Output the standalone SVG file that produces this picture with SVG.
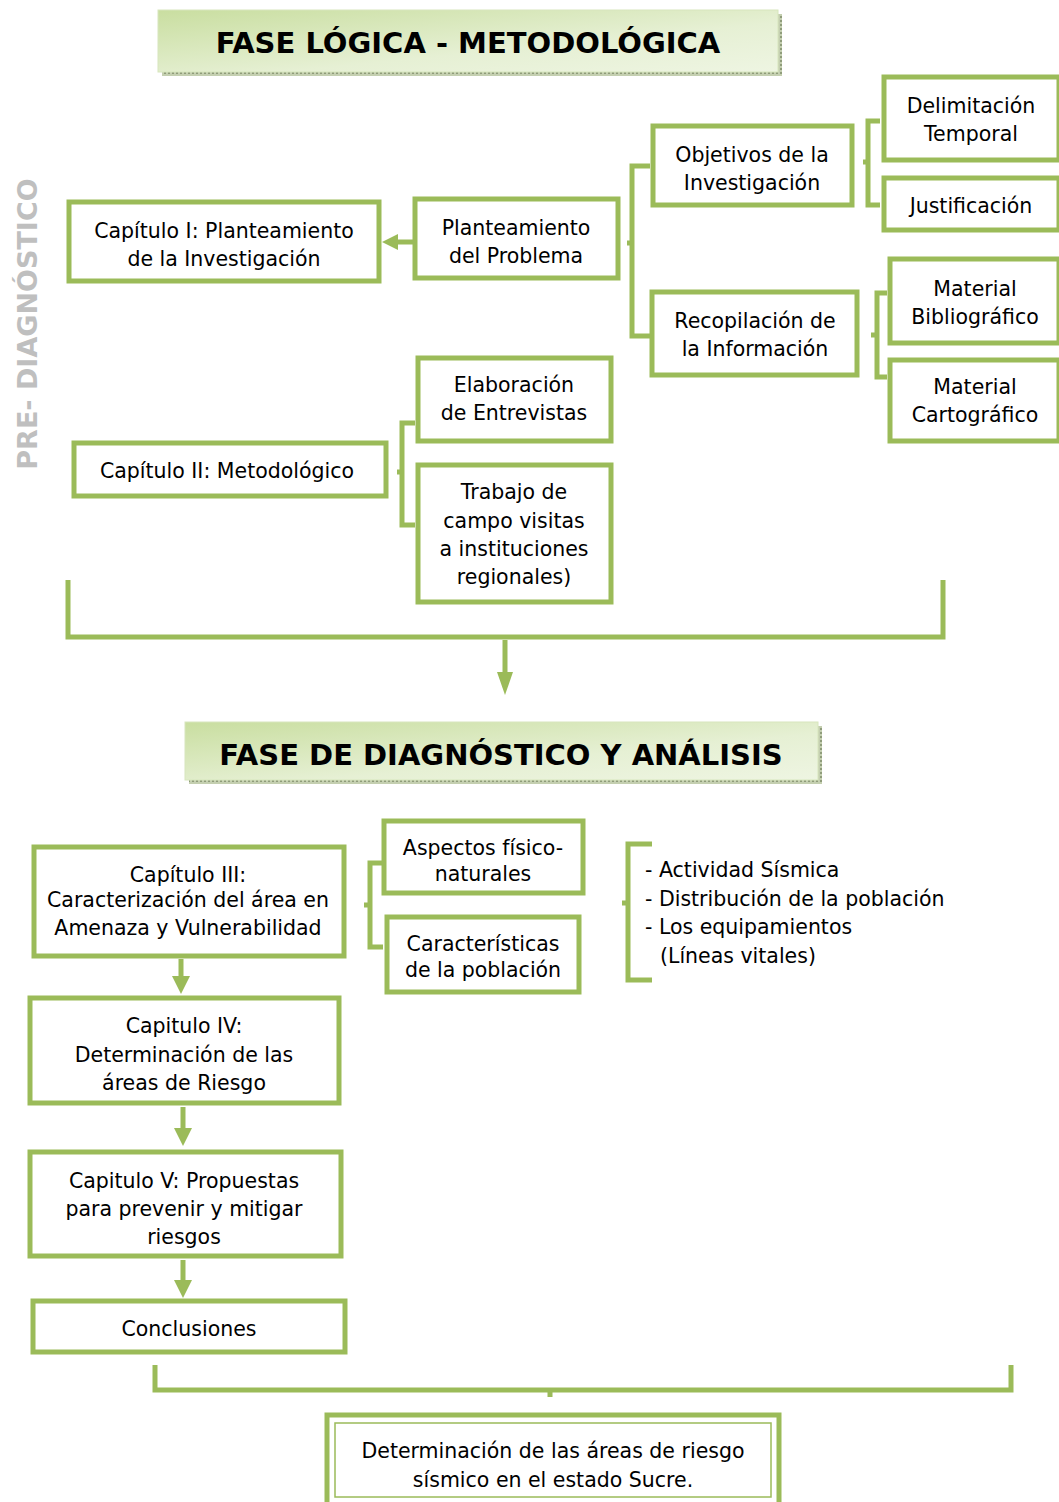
<svg xmlns="http://www.w3.org/2000/svg" width="1059" height="1502" viewBox="0 0 1059 1502">
<defs>
<linearGradient id="tg" x1="0" y1="0" x2="1" y2="1">
<stop offset="0" stop-color="#c9dea0"/>
<stop offset="0.6" stop-color="#e6f0d4"/>
<stop offset="1" stop-color="#eef5e2"/>
</linearGradient>
<pattern id="dots" width="4" height="4" patternUnits="userSpaceOnUse">
<rect width="4" height="4" fill="#c4cfb0"/>
<rect width="2" height="2" fill="#8f9c7a"/>
</pattern>
</defs>
<style>
.box{fill:#fff;stroke:#9BBB59;stroke-width:5}
.t{font-family:"DejaVu Sans","Noto Sans",sans-serif;font-size:20.5px;fill:#000;text-anchor:middle}
.tl{font-family:"DejaVu Sans","Noto Sans",sans-serif;font-size:20.5px;fill:#000}
.title{font-family:"DejaVu Sans","Noto Sans",sans-serif;font-weight:bold;font-size:29px;fill:#000;text-anchor:middle}
.c{fill:none;stroke:#9BBB59;stroke-width:5}
.head{fill:#9BBB59;stroke:none}
</style>
<rect width="1059" height="1502" fill="#fff"/>

<g id="title1">
<rect x="162" y="14" width="620" height="62" fill="url(#dots)"/>
<rect x="158" y="10" width="620" height="62" fill="url(#tg)" stroke="#d7e6bd" stroke-width="1"/>
<text class="title" x="468" y="53">FASE LÓGICA - METODOLÓGICA</text>
</g>

<g id="side-label">
<text transform="translate(37,324) rotate(-90)" font-family="DejaVu Sans,sans-serif" font-weight="bold" font-size="27" fill="#BFBFBF" text-anchor="middle">PRE- DIAGNÓSTICO</text>
</g>

<g id="cap1"><rect class="box" x="69" y="202" width="310" height="79"/>
<text class="t" x="224" y="238">Capítulo I: Planteamiento</text><text class="t" x="224" y="266">de la Investigación</text></g>
<g id="planteamiento"><rect class="box" x="415" y="199" width="203" height="79"/>
<text class="t" x="516" y="235">Planteamiento</text><text class="t" x="516" y="263">del Problema</text></g>
<g id="objetivos"><rect class="box" x="653" y="126" width="199" height="79"/>
<text class="t" x="752" y="162">Objetivos de la</text><text class="t" x="752" y="190">Investigación</text></g>
<g id="delimitacion"><rect class="box" x="884" y="77" width="175" height="83"/>
<text class="t" x="971" y="113">Delimitación</text><text class="t" x="971" y="141">Temporal</text></g>
<g id="justificacion"><rect class="box" x="884" y="178" width="175" height="52"/>
<text class="t" x="971" y="213">Justificación</text></g>
<g id="recopilacion"><rect class="box" x="652" y="292" width="205" height="83"/>
<text class="t" x="755" y="328">Recopilación de</text><text class="t" x="755" y="356">la Información</text></g>
<g id="bibliografico"><rect class="box" x="890" y="259" width="169" height="84"/>
<text class="t" x="975" y="296">Material</text><text class="t" x="975" y="324">Bibliográfico</text></g>
<g id="cartografico"><rect class="box" x="890" y="360" width="169" height="81"/>
<text class="t" x="975" y="394">Material</text><text class="t" x="975" y="422">Cartográfico</text></g>
<g id="cap2"><rect class="box" x="74" y="443" width="312" height="53"/>
<text class="t" x="227" y="478">Capítulo II: Metodológico</text></g>
<g id="entrevistas"><rect class="box" x="418" y="358" width="193" height="83"/>
<text class="t" x="514" y="392">Elaboración</text><text class="t" x="514" y="420">de Entrevistas</text></g>
<g id="trabajo"><rect class="box" x="418" y="465" width="193" height="137"/>
<text class="t" x="514" y="499">Trabajo de</text><text class="t" x="514" y="528">campo visitas</text><text class="t" x="514" y="556">a instituciones</text><text class="t" x="514" y="584">regionales)</text></g>

<g id="title2">
<rect x="189" y="726" width="633" height="58" fill="url(#dots)"/>
<rect x="185" y="722" width="633" height="58" fill="url(#tg)" stroke="#d7e6bd" stroke-width="1"/>
<text class="title" x="501" y="765">FASE DE DIAGNÓSTICO Y ANÁLISIS</text>
</g>

<g id="cap3"><rect class="box" x="34" y="847" width="310" height="109"/>
<text class="t" x="188" y="882">Capítulo III:</text><text class="t" x="188" y="907">Caracterización del área en</text><text class="t" x="188" y="935">Amenaza y Vulnerabilidad</text></g>
<g id="aspectos"><rect class="box" x="384" y="821" width="199" height="72"/>
<text class="t" x="483" y="855">Aspectos físico-</text><text class="t" x="483" y="881">naturales</text></g>
<g id="caracteristicas"><rect class="box" x="387" y="917" width="192" height="75"/>
<text class="t" x="483" y="951">Características</text><text class="t" x="483" y="977">de la población</text></g>
<g id="lista">
<text class="tl" x="645" y="877">- Actividad Sísmica</text>
<text class="tl" x="645" y="906">- Distribución de la población</text>
<text class="tl" x="645" y="934">- Los equipamientos</text>
<text class="tl" x="660" y="963">(Líneas vitales)</text>
</g>
<g id="cap4"><rect class="box" x="30" y="998" width="309" height="105"/>
<text class="t" x="184" y="1033">Capitulo IV:</text><text class="t" x="184" y="1062">Determinación de las</text><text class="t" x="184" y="1090">áreas de Riesgo</text></g>
<g id="cap5"><rect class="box" x="30" y="1152" width="311" height="104"/>
<text class="t" x="184" y="1188">Capitulo V: Propuestas</text><text class="t" x="184" y="1216">para prevenir y mitigar</text><text class="t" x="184" y="1244">riesgos</text></g>
<g id="conclusiones"><rect class="box" x="33" y="1301" width="312" height="51"/>
<text class="t" x="189" y="1336">Conclusiones</text></g>
<g id="final">
<rect x="327" y="1415" width="452" height="90" fill="#fff" stroke="#9BBB59" stroke-width="5"/>
<rect x="335" y="1423" width="436" height="74" fill="none" stroke="#9BBB59" stroke-width="1.5"/>
<text class="t" x="553" y="1458">Determinación de las áreas de riesgo</text><text class="t" x="553" y="1487">sísmico en el estado Sucre.</text>
</g>

<g id="connectors">
<path class="c" d="M414,242 H395"/>
<polygon class="head" points="398,234 398,250 382,242"/>
<path class="c" d="M650,166 H632 V336 H650 M632,243 H627"/>
<path class="c" d="M880,121 H868 V205 H880 M868,162 H863"/>
<path class="c" d="M887,293 H877 V377 H887 M877,335 H871"/>
<path class="c" d="M415,423 H402 V525 H415 M402,472 H397"/>
<path class="c" d="M68,580 V637 H943 V580" stroke-width="6"/>
<path class="c" d="M505,640 V675"/>
<polygon class="head" points="497,672 513,672 505,695"/>
<path class="c" d="M383,863 H370 V947 H383 M370,905 H364"/>
<path class="c" d="M652,844 H628 V980 H652 M628,903 H622"/>
<path class="c" d="M181,959 V978"/>
<polygon class="head" points="172,976 190,976 181,994"/>
<path class="c" d="M183,1107 V1130"/>
<polygon class="head" points="174,1128 192,1128 183,1146"/>
<path class="c" d="M183,1260 V1282"/>
<polygon class="head" points="174,1280 192,1280 183,1298"/>
<path class="c" d="M155,1365 V1390 H1011 V1365 M550,1390 V1397"/>
</g>
</svg>
